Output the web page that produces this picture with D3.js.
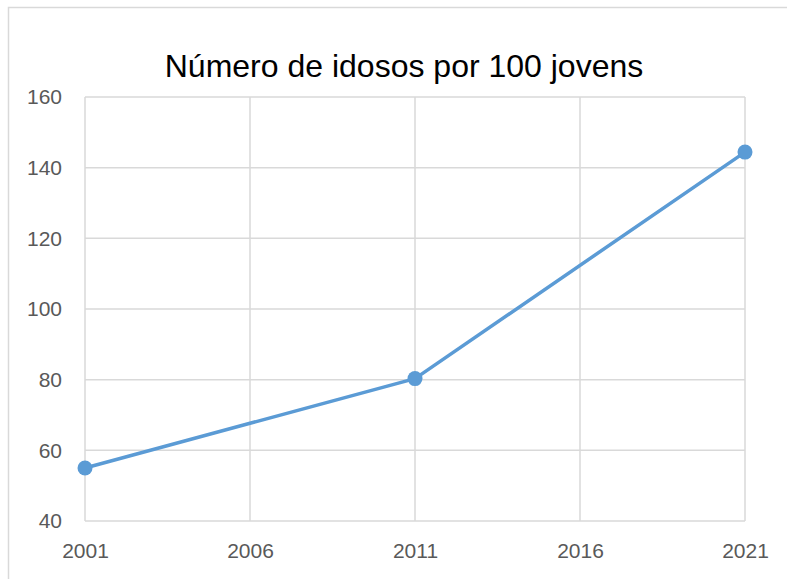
<!DOCTYPE html>
<html>
<head>
<meta charset="utf-8">
<script src="https://cdn.jsdelivr.net/npm/d3@7"></script>
<style>
  html, body { margin: 0; padding: 0; background: #fff; }
  svg { display: block; }
</style>
</head>
<body>
<svg id="chart" width="787" height="579"></svg>
<script>
const title = "Número de idosos por 100 jovens";
const years = [2001, 2011, 2021];
const values = [55, 80.3, 144.4];
const xTicks = [2001, 2006, 2011, 2016, 2021];
const yTicks = [40, 60, 80, 100, 120, 140, 160];

const svg = d3.select("#chart");
const W = 787, H = 579;
const margin = { left: 85, right: 42, top: 97, bottom: 58 };

// outer chart border
svg.append("rect")
  .attr("x", 8.5).attr("y", 7.5)
  .attr("width", W + 10).attr("height", H + 10)
  .attr("fill", "#fff").attr("stroke", "#D9D9D9").attr("stroke-width", 1.5);

const x = d3.scaleLinear().domain([2001, 2021]).range([margin.left, W - margin.right]);
const y = d3.scaleLinear().domain([40, 160]).range([H - margin.bottom, margin.top]);

// grid
svg.append("g").selectAll("line.h").data(yTicks).join("line")
  .attr("x1", x(2001)).attr("x2", x(2021))
  .attr("y1", d => y(d)).attr("y2", d => y(d))
  .attr("stroke", "#D9D9D9").attr("stroke-width", 1.5);
svg.append("g").selectAll("line.v").data(xTicks).join("line")
  .attr("x1", d => x(d)).attr("x2", d => x(d))
  .attr("y1", y(40)).attr("y2", y(160))
  .attr("stroke", "#D9D9D9").attr("stroke-width", 1.5);

// axes labels via d3 axes
const yAxis = d3.axisLeft(y).tickValues(yTicks).tickSize(0).tickPadding(23);
const gy = svg.append("g").attr("transform", `translate(${x(2001)},0)`).call(yAxis);
gy.select(".domain").remove();
gy.selectAll("text").attr("font-family", "Liberation Sans, Arial, sans-serif")
  .attr("font-size", 21).attr("fill", "#595959");

const xAxis = d3.axisBottom(x).tickValues(xTicks).tickFormat(d3.format("d")).tickSize(0).tickPadding(22);
const gx = svg.append("g").attr("transform", `translate(0,${y(40)})`).call(xAxis);
gx.select(".domain").remove();
gx.selectAll("text").attr("font-family", "Liberation Sans, Arial, sans-serif")
  .attr("font-size", 21).attr("fill", "#595959");

// line
const data = years.map((yr, i) => ({ yr, v: values[i] }));
svg.append("path").datum(data)
  .attr("fill", "none").attr("stroke", "#5B9BD5").attr("stroke-width", 3.5)
  .attr("stroke-linejoin", "round")
  .attr("d", d3.line().x(d => x(d.yr)).y(d => y(d.v)));
svg.append("g").selectAll("circle").data(data).join("circle")
  .attr("cx", d => x(d.yr)).attr("cy", d => y(d.v)).attr("r", 7.5)
  .attr("fill", "#5B9BD5");

// title
svg.append("text").attr("x", 404).attr("y", 77)
  .attr("text-anchor", "middle")
  .attr("font-family", "Liberation Sans, Arial, sans-serif")
  .attr("font-size", 32).attr("fill", "#000")
  .text(title);
</script>
</body>
</html>
